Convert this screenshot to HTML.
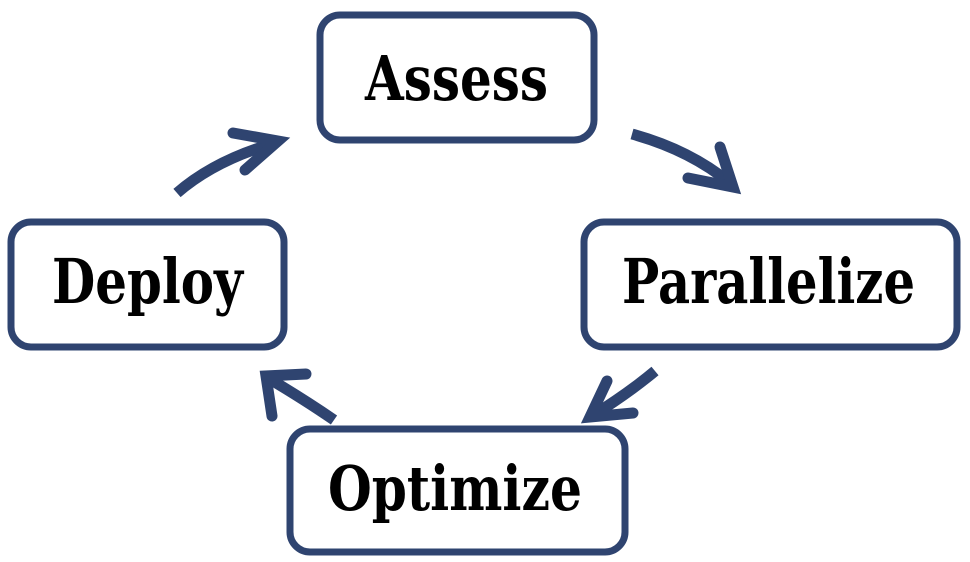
<html><body style="margin:0;background:#fff;width:970px;height:562px;overflow:hidden">
<svg width="970" height="562" xmlns="http://www.w3.org/2000/svg">
<g fill="#fff" stroke="#2f4470" stroke-width="7">
<rect x="320" y="15" width="274" height="125" rx="20"/>
<rect x="584" y="222" width="373" height="125" rx="20"/>
<rect x="290" y="429" width="335" height="123" rx="20"/>
<rect x="11" y="222" width="273" height="125" rx="20"/>
</g>
<g fill="none" stroke="#2f4470" stroke-width="11" stroke-linejoin="miter">
<path d="M177,193 Q215,160 275,143"/>
<path d="M233,133 L278,141 L245,170" stroke-linecap="round"/>
<path d="M632,134 Q690,150 730,183"/>
<path d="M688,178 L733,187 L720,147" stroke-linecap="round"/>
<path d="M655,371 Q630,392 592,416"/>
<path d="M607,381 L590,417 L633,413" stroke-linecap="round"/>
<path d="M334,420 Q305,400 268,378"/>
<path d="M272,416 L266,376 L306,374" stroke-linecap="round"/>
</g>
<g font-family="DejaVu Serif, serif" font-weight="bold" font-size="62" fill="#000" lengthAdjust="spacingAndGlyphs">
<text x="365" y="100" textLength="183" lengthAdjust="spacingAndGlyphs">Assess</text>
<text x="622" y="303" textLength="293" lengthAdjust="spacingAndGlyphs">Parallelize</text>
<text x="328" y="510" textLength="254" lengthAdjust="spacingAndGlyphs">Optimize</text>
<text x="52" y="303" textLength="191" lengthAdjust="spacingAndGlyphs">Deploy</text>
</g>
</svg>
</body></html>
